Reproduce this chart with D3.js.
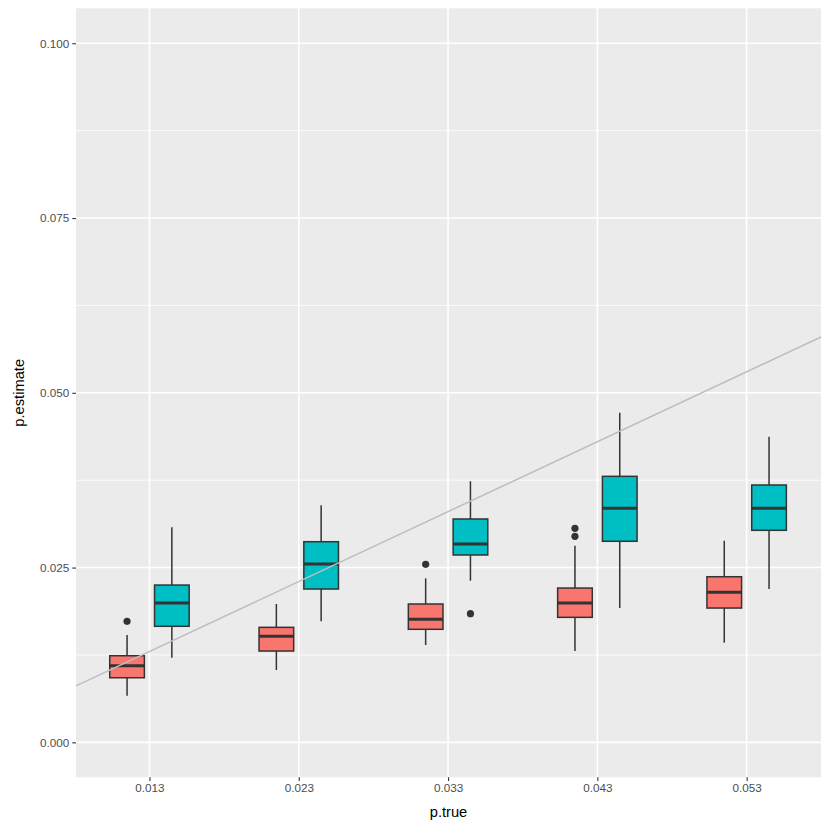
<!DOCTYPE html>
<html>
<head>
<meta charset="utf-8">
<script src="https://cdn.jsdelivr.net/npm/d3@7"></script>
<style>
body{margin:0;background:#fff;}
svg{display:block;}
</style>
</head>
<body>
<svg id="chart" width="830" height="830"></svg>
<script>
// ---- data ----
const pTrue = [0.013, 0.023, 0.033, 0.043, 0.053];
const xTicks = [0.013, 0.023, 0.033, 0.043, 0.053];
const yTicks = [0.000, 0.025, 0.050, 0.075, 0.100];
const yMinor = [0.0125, 0.0375, 0.0625, 0.0875];
// [lower whisker, q1, median, q3, upper whisker]
const redStats = [
  [0.00667, 0.00924, 0.01096, 0.01239, 0.01535],
  [0.01034, 0.01306, 0.01516, 0.01645, 0.01979],
  [0.01392, 0.01617, 0.01760, 0.01979, 0.02346],
  [0.01306, 0.01788, 0.01993, 0.02207, 0.02813],
  [0.01425, 0.01921, 0.02146, 0.02369, 0.02884]
];
const tealStats = [
  [0.01210, 0.01660, 0.01993, 0.02250, 0.03076],
  [0.01731, 0.02193, 0.02551, 0.02870, 0.03391],
  [0.02312, 0.02680, 0.02837, 0.03195, 0.03734],
  [0.01921, 0.02876, 0.03348, 0.03805, 0.04715],
  [0.02193, 0.03033, 0.03348, 0.03681, 0.04372]
];
const redOutliers = [[0.013, 0.01731], [0.033, 0.02546], [0.043, 0.03062], [0.043, 0.02947]];
const tealOutliers = [[0.033, 0.01840]];
const seriesColors = ["#F8766D", "#00BFC4"];

// ---- layout ----
const svg = d3.select("#chart");
const panel = {left: 76, right: 821, top: 8.3, bottom: 777.3};
const x = d3.scaleLinear().domain([0.00808, 0.05798]).range([panel.left, panel.right]);
const y = d3.scaleLinear().domain([-0.005, 0.105]).range([panel.bottom, panel.top]);
const dodge = 0.0015;
const boxW = 0.00232;

svg.append("rect").attr("x", panel.left).attr("y", panel.top)
  .attr("width", panel.right - panel.left).attr("height", panel.bottom - panel.top)
  .attr("fill", "#EBEBEB");

const grid = svg.append("g");
grid.selectAll(".ymin").data(yMinor).join("line")
  .attr("x1", panel.left).attr("x2", panel.right)
  .attr("y1", d => y(d)).attr("y2", d => y(d))
  .attr("stroke", "#fff").attr("stroke-width", 0.8);
grid.selectAll(".ymaj").data(yTicks).join("line")
  .attr("x1", panel.left).attr("x2", panel.right)
  .attr("y1", d => y(d)).attr("y2", d => y(d))
  .attr("stroke", "#fff").attr("stroke-width", 1.6);
grid.selectAll(".xmaj").data(xTicks).join("line")
  .attr("y1", panel.top).attr("y2", panel.bottom)
  .attr("x1", d => x(d)).attr("x2", d => x(d))
  .attr("stroke", "#fff").attr("stroke-width", 1.6);

// ---- boxes ----
const ink = "#333333";
function drawBoxes(stats, outliers, offset, color) {
  const g = svg.append("g");
  stats.forEach((s, i) => {
    const cx = x(pTrue[i] + offset);
    const x0 = x(pTrue[i] + offset - boxW / 2), x1 = x(pTrue[i] + offset + boxW / 2);
    g.append("line").attr("x1", cx).attr("x2", cx).attr("y1", y(s[3])).attr("y2", y(s[4]))
      .attr("stroke", ink).attr("stroke-width", 1.5);
    g.append("line").attr("x1", cx).attr("x2", cx).attr("y1", y(s[1])).attr("y2", y(s[0]))
      .attr("stroke", ink).attr("stroke-width", 1.5);
    g.append("rect").attr("x", x0).attr("y", y(s[3]))
      .attr("width", x1 - x0).attr("height", y(s[1]) - y(s[3]))
      .attr("fill", color).attr("stroke", ink).attr("stroke-width", 1.5);
    g.append("line").attr("x1", x0).attr("x2", x1).attr("y1", y(s[2])).attr("y2", y(s[2]))
      .attr("stroke", ink).attr("stroke-width", 3);
  });
  g.selectAll("circle").data(outliers).join("circle")
    .attr("cx", d => x(d[0] + offset)).attr("cy", d => y(d[1])).attr("r", 3.6)
    .attr("fill", ink);
}
drawBoxes(redStats, redOutliers, -dodge, seriesColors[0]);
drawBoxes(tealStats, tealOutliers, dodge, seriesColors[1]);

// ---- y = x reference line ----
const xd = x.domain();
svg.append("line")
  .attr("x1", x(xd[0])).attr("y1", y(xd[0]))
  .attr("x2", x(xd[1])).attr("y2", y(xd[1]))
  .attr("stroke", "#BEBEBE").attr("stroke-width", 1.5);

// ---- axes ----
const fmt = d3.format(".3f");
const xAxis = svg.append("g").attr("transform", `translate(0,${panel.bottom})`)
  .call(d3.axisBottom(x).tickValues(xTicks).tickFormat(fmt).tickSize(3.7).tickPadding(3));
const yAxis = svg.append("g").attr("transform", `translate(${panel.left},0)`)
  .call(d3.axisLeft(y).tickValues(yTicks).tickFormat(fmt).tickSize(3.7).tickPadding(3));
[xAxis, yAxis].forEach(a => {
  a.select(".domain").remove();
  a.selectAll(".tick line").attr("stroke", ink).attr("stroke-width", 1.1);
  a.selectAll(".tick text").attr("fill", "#4D4D4D")
    .style("font-family", "Liberation Sans, Arial, sans-serif").style("font-size", "11.7px");
});

svg.append("text").attr("x", (panel.left + panel.right) / 2).attr("y", 817)
  .attr("text-anchor", "middle").attr("fill", "#000")
  .style("font-family", "Liberation Sans, Arial, sans-serif").style("font-size", "14.7px")
  .text("p.true");
svg.append("text").attr("transform", `translate(23.5,${(panel.top + panel.bottom) / 2}) rotate(-90)`)
  .attr("text-anchor", "middle").attr("fill", "#000")
  .style("font-family", "Liberation Sans, Arial, sans-serif").style("font-size", "14.7px")
  .text("p.estimate");
</script>
</body>
</html>
